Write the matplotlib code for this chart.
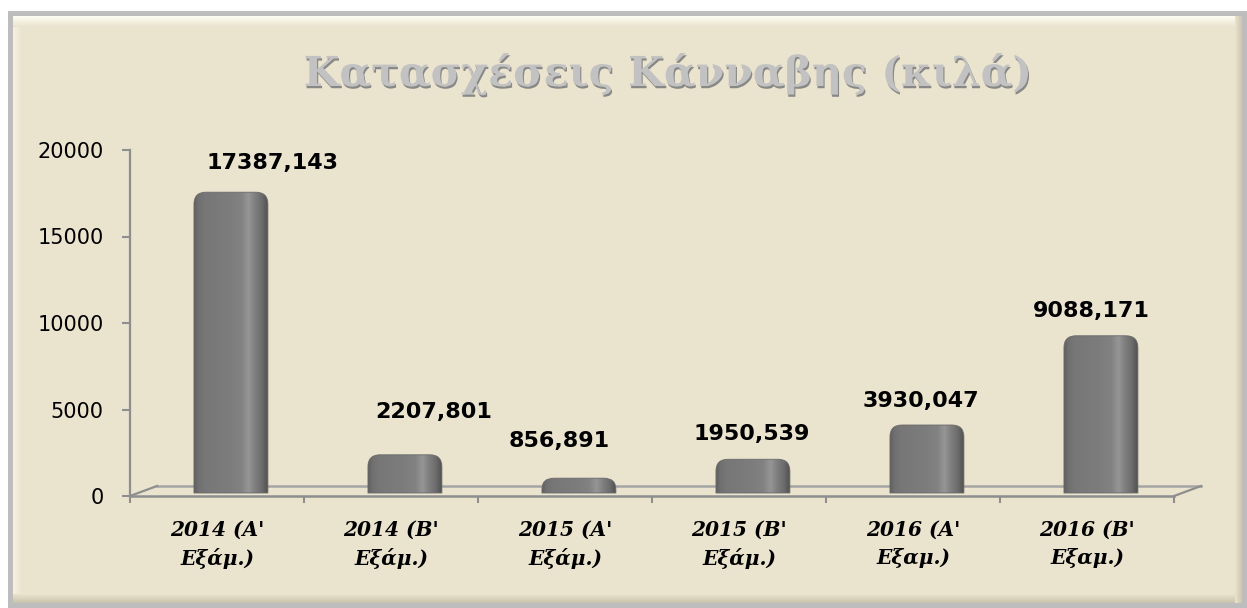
import matplotlib
matplotlib.use("Agg")
import matplotlib.pyplot as plt
import numpy as np
from matplotlib.path import Path
from matplotlib.patches import PathPatch, Rectangle
from matplotlib.transforms import ScaledTranslation, IdentityTransform
from matplotlib.lines import Line2D
from matplotlib.colors import to_rgb
import matplotlib.patheffects as pe

# ---------------- data ----------------
categories = ["2014 (Α'\nΕξάμ.)", "2014 (Β'\nΕξάμ.)", "2015 (Α'\nΕξάμ.)",
              "2015 (Β'\nΕξάμ.)", "2016 (Α'\nΕξαμ.)", "2016 (Β'\nΕξαμ.)"]
values = [17387.143, 2207.801, 856.891, 1950.539, 3930.047, 9088.171]
value_labels = ["17387,143", "2207,801", "856,891", "1950,539", "3930,047", "9088,171"]
y_ticks = [0, 5000, 10000, 15000, 20000]
y_max = 20000
title = "Κατασχέσεις Κάνναβης (κιλά)"

# ---------------- figure ----------------
W, H, DPI = 1247, 608, 100
fig = plt.figure(figsize=(W / DPI, H / DPI), dpi=DPI)
fig.patch.set_facecolor("white")

BEIGE = "#EAE3CE"
GREY_AX = "#8E8E8E"


def grad(axis, x0, x1, y0, y1, c0, c1, vertical=True, n=64, z=0):
    a = np.linspace(0, 1, n)
    c0 = np.array(to_rgb(c0)); c1 = np.array(to_rgb(c1))
    cols = c0[None, :] * (1 - a[:, None]) + c1[None, :] * a[:, None]
    img = cols[:, None, :] if vertical else cols[None, :, :]
    axis.imshow(img, extent=(x0, x1, y1, y0), aspect="auto",
                interpolation="bilinear", zorder=z)


# background frame (pixel coordinates)
bg = fig.add_axes([0, 0, 1, 1], zorder=-10)
bg.axis("off")
bg.add_patch(Rectangle((8, 11), W - 8, H - 11, facecolor="#BDBDBD", edgecolor="none", zorder=0))
bg.add_patch(Rectangle((13, 16), W - 18, H - 21, facecolor=BEIGE, edgecolor="none", zorder=1))
grad(bg, 13, W - 5, 16, 27, "#FFFEF3", BEIGE, vertical=True, z=2)
grad(bg, 13, 22, 27, H - 5, "#F6F2E1", BEIGE, vertical=False, z=2)
grad(bg, 13, W - 5, 594, H - 5, BEIGE, "#C9C3AE", vertical=True, z=2)
grad(bg, W - 12, W - 5, 16, H - 5, BEIGE, "#CCC6B1", vertical=False, z=2)
bg.set_xlim(0, W)
bg.set_ylim(H, 0)

# main axes
x_left, x_right, y_zero, y_top = 130, 1174, 496, 150
ax = fig.add_axes([x_left / W, (H - y_zero) / H, (x_right - x_left) / W, (y_zero - y_top) / H])
n = len(categories)
ax.set_xlim(-0.5, n - 0.5)
ax.set_ylim(0, y_max)
ax.patch.set_alpha(0)
for s in ["top", "right", "bottom"]:
    ax.spines[s].set_visible(False)
ax.spines["left"].set_color(GREY_AX)
ax.spines["left"].set_linewidth(1.6)

ax.set_yticks(y_ticks)
ax.set_yticklabels([str(t) for t in y_ticks], fontfamily="DejaVu Sans", fontsize=15)
ax.tick_params(axis="y", direction="out", length=6, width=1.5, color=GREY_AX, pad=13)

ax.set_xticks(np.arange(n + 1) - 0.5)
ax.set_xticklabels([])
ax.set_xticks(np.arange(n), minor=True)
ax.set_xticklabels(categories, minor=True, fontfamily="DejaVu Serif",
                   fontweight="bold", fontstyle="italic", fontsize=14.5,
                   linespacing=1.5)
ax.tick_params(axis="x", which="major", direction="out", length=5, width=1.5, color=GREY_AX)
ax.tick_params(axis="x", which="minor", length=0, pad=17)

# floor (3D look)
depth = ScaledTranslation(27 / DPI, 10 / DPI, fig.dpi_scale_trans)
back = ax.transData + depth
ax.plot([-0.5, n - 0.5], [0, 0], color="#A5A5A5", lw=1.8, transform=back, clip_on=False, zorder=1)
ax.plot([-0.5, n - 0.5], [0, 0], color=GREY_AX, lw=1.8, clip_on=False, zorder=1)
fig.canvas.draw()
for xe in (-0.5, n - 0.5):
    p0 = ax.transData.transform((xe, 0))
    p1 = back.transform((xe, 0))
    fig.add_artist(Line2D([p0[0], p1[0]], [p0[1], p1[1]], transform=IdentityTransform(),
                          color=GREY_AX, lw=1.6, zorder=1))

# bars
bar_off = 0.08
bars = ax.bar(np.arange(n) + bar_off, values, width=0.425, color="none")
for b in bars:
    b.set_visible(False)

px_x = (x_right - x_left) / n
px_y = (y_zero - y_top) / y_max
lift = ax.transData + ScaledTranslation(0, 3 / DPI, fig.dpi_scale_trans)

stops = [0.0, 0.06, 0.15, 0.5, 0.64, 0.74, 0.82, 0.92, 1.0]
greys = [96, 112, 119, 125, 130, 150, 128, 108, 80]
xs = np.linspace(0, 1, 256)
g = np.interp(xs, stops, greys) / 255.0
grad_img = np.stack([g, g, g], axis=-1)[None, :, :].repeat(2, axis=0)

for b in bars:
    x0 = b.get_x(); w = b.get_width(); h = b.get_height()
    x1 = x0 + w
    rx = 12 / px_x
    ry = min(12 / px_y, h * 0.75)
    verts = [(x0, 0), (x0, h - ry), (x0, h), (x0 + rx, h), (x1 - rx, h),
             (x1, h), (x1, h - ry), (x1, 0), (x0, 0)]
    codes = [Path.MOVETO, Path.LINETO, Path.CURVE3, Path.CURVE3, Path.LINETO,
             Path.CURVE3, Path.CURVE3, Path.LINETO, Path.CLOSEPOLY]
    patch = PathPatch(Path(verts, codes), facecolor="none", edgecolor="none",
                      transform=lift, zorder=3)
    ax.add_patch(patch)
    im = ax.imshow(grad_img, extent=(x0, x1, 0, h), aspect="auto",
                   interpolation="bilinear", zorder=3)
    im.set_transform(lift)
    im.set_clip_path(patch)
    outline = PathPatch(Path(verts, codes), facecolor="none", edgecolor="#6A6A6A",
                        lw=0.6, transform=lift, zorder=4)
    ax.add_patch(outline)

ax.set_xlim(-0.5, n - 0.5)
ax.set_ylim(0, y_max)

# value labels
nudge_x_px = [42, 29, -20, -1, -6, -10]
rise_px = [29, 43, 37, 25, 24, 25]
for i, (b, lab) in enumerate(zip(bars, value_labels)):
    ax.annotate(lab, xy=(b.get_x() + b.get_width() / 2, b.get_height()),
                xytext=(nudge_x_px[i] * 0.72, (3 + rise_px[i]) * 0.72),
                textcoords="offset points", ha="center", va="center",
                fontsize=16, fontweight="bold", fontfamily="DejaVu Sans",
                color="black", annotation_clip=False, zorder=5)

# title
t = fig.text(668 / W, (H - 86) / H, title, ha="center", va="baseline",
             fontfamily="DejaVu Serif", fontweight="bold", fontsize=32,
             color="#C2C2C2")
fig.canvas.draw()
wdt = t.get_window_extent().width
t.set_fontsize(32 * 730 / wdt)
t.set_path_effects([pe.withSimplePatchShadow(offset=(0.8, -1.6), shadow_rgbFace="#7E7E7E", alpha=0.9)])

fig.savefig("out.png", dpi=DPI)
